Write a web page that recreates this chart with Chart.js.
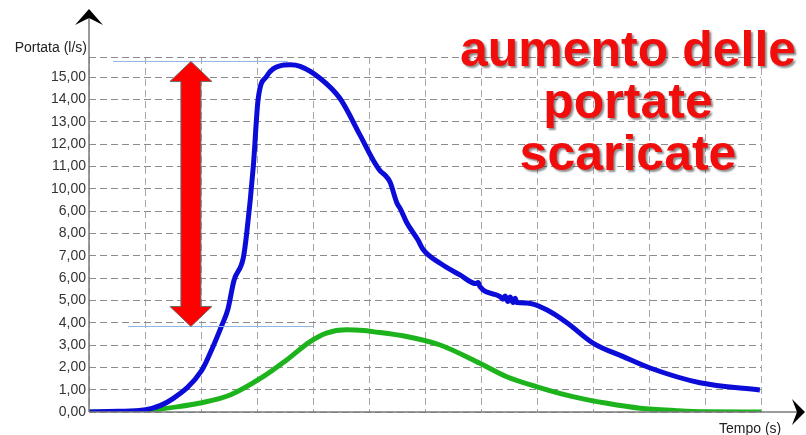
<!DOCTYPE html>
<html>
<head>
<meta charset="utf-8">
<script src="https://cdn.jsdelivr.net/npm/chart.js@4"></script>
<style>
    body { margin: 0; background: #fff; }
    #wrap { position: relative; width: 806px; height: 435px; }
</style>
</head>
<body>
<div id="wrap"><canvas id="PortataChart"></canvas></div>
<script>
// tempo (units of the grid) and portata (l/s)
const blueTime = [0, 0.52, 1.01, 1.5, 2.01, 2.21, 2.375, 2.48, 2.59, 2.755, 2.816, 2.934, 3.02, 3.17, 3.41, 3.59, 3.77, 4.125, 4.48, 4.84, 5.07, 5.2, 5.29, 5.375, 5.5, 5.56, 5.67, 5.875, 5.96, 6.27, 6.625, 6.91, 6.95, 6.98, 7.34, 7.39, 7.43, 7.48, 7.52, 7.57, 7.61, 7.64, 7.82, 8.18, 8.54, 9.0, 9.54, 10.02, 10.91, 11.98];
const blueFlow = [0, 0.03, 0.1, 0.6, 1.85, 2.9, 3.9, 4.6, 5.9, 6.9, 8.0, 11.0, 14.0, 15.03, 15.5, 15.55, 15.48, 14.95, 14.05, 12.4, 11.3, 10.8, 10.6, 10.3, 9.35, 9.1, 8.5, 7.7, 7.3, 6.66, 6.14, 5.75, 5.8, 5.62, 5.17, 5.05, 5.2, 4.95, 5.15, 4.9, 5.1, 4.9, 4.88, 4.57, 3.99, 3.09, 2.48, 1.97, 1.31, 0.99];

const greenTime = [0, 0.5, 1.0, 1.6, 1.96, 2.52, 3.11, 3.53, 3.95, 4.24, 4.6, 4.9, 5.07, 5.67, 6.27, 6.98, 7.46, 8.0, 8.64, 9.25, 9.84, 10.5, 11.0, 12.0];
const greenFlow = [0, 0.01, 0.06, 0.24, 0.39, 0.76, 1.58, 2.33, 3.15, 3.53, 3.68, 3.65, 3.6, 3.38, 3.0, 2.18, 1.58, 1.13, 0.69, 0.39, 0.17, 0.06, 0.01, 0];

const yTickValues = [0, 1, 2, 3, 4, 5, 6, 7, 8, 9, 10, 11, 12, 13, 14, 15, 15.9];
const yTickLabels = ['0,00', '1,00', '2,00', '3,00', '4,00', '5,00', '6,00', '7,00', '8,00', '6,00', '10,00', '11,00', '12,00', '13,00', '14,00', '15,00', ''];

const yTitle = 'Portata (l/s)';
const xTitle = 'Tempo (s)';
const noteLines = ['aumento delle', 'portate', 'scaricate'];

function toPoints(xs, ys) {
    return xs.map((x, i) => ({x: x, y: ys[i]}));
}

const decorPlugin = {
    id: 'decor',
    afterDraw(chart) {
        const ctx = chart.ctx;
        const xs = chart.scales.x;
        const ys = chart.scales.y;
        const area = chart.chartArea;

        ctx.save();

        // axis lines
        ctx.strokeStyle = '#7a7a7a';
        ctx.lineWidth = 1.5;
        ctx.beginPath();
        ctx.moveTo(area.left, area.bottom);
        ctx.lineTo(area.left, 12);
        ctx.moveTo(area.left, area.bottom);
        ctx.lineTo(800, area.bottom);
        ctx.stroke();

        // arrow heads
        ctx.fillStyle = '#000';
        ctx.beginPath();
        ctx.moveTo(area.left, 9);
        ctx.lineTo(area.left + 14, 25);
        ctx.lineTo(area.left, 18);
        ctx.lineTo(area.left - 14, 25);
        ctx.closePath();
        ctx.fill();
        ctx.beginPath();
        ctx.moveTo(805, area.bottom);
        ctx.lineTo(792, area.bottom - 13);
        ctx.lineTo(797, area.bottom);
        ctx.lineTo(792, area.bottom + 13);
        ctx.closePath();
        ctx.fill();

        // axis titles
        ctx.fillStyle = '#222';
        ctx.font = '14px "Liberation Sans", Arial, sans-serif';
        ctx.textAlign = 'right';
        ctx.textBaseline = 'middle';
        ctx.fillText(yTitle, area.left - 2, 48);
        ctx.textAlign = 'left';
        ctx.textBaseline = 'top';
        ctx.font = '14px "Liberation Sans", Arial, sans-serif';
        ctx.fillText(xTitle, 719, 422);

        // thin reference lines at peak levels
        const topY = ys.getPixelForValue(15.7);
        const lowY = ys.getPixelForValue(3.83);
        ctx.strokeStyle = '#8fb6e3';
        ctx.lineWidth = 1;
        ctx.beginPath();
        ctx.moveTo(xs.getPixelForValue(0.43), topY);
        ctx.lineTo(xs.getPixelForValue(3.55), topY);
        ctx.moveTo(xs.getPixelForValue(0.7), lowY);
        ctx.lineTo(xs.getPixelForValue(4.0), lowY);
        ctx.stroke();

        // red double arrow
        const cx = xs.getPixelForValue(1.82);
        const headH = 20, headW = 21, shaftW = 10;
        ctx.fillStyle = '#ff0000';
        ctx.strokeStyle = '#6d6d6d';
        ctx.lineWidth = 1;
        ctx.beginPath();
        ctx.moveTo(cx, topY);
        ctx.lineTo(cx + headW, topY + headH);
        ctx.lineTo(cx + shaftW, topY + headH);
        ctx.lineTo(cx + shaftW, lowY - headH);
        ctx.lineTo(cx + headW, lowY - headH);
        ctx.lineTo(cx, lowY);
        ctx.lineTo(cx - headW, lowY - headH);
        ctx.lineTo(cx - shaftW, lowY - headH);
        ctx.lineTo(cx - shaftW, topY + headH);
        ctx.lineTo(cx - headW, topY + headH);
        ctx.closePath();
        ctx.fill();
        ctx.stroke();

        // big red note
        ctx.font = 'bold 50px "Liberation Sans", Arial, sans-serif';
        ctx.textAlign = 'center';
        ctx.textBaseline = 'alphabetic';
        ctx.fillStyle = '#f20d0d';
        ctx.shadowColor = 'rgba(0, 0, 0, 0.45)';
        ctx.shadowOffsetX = 2;
        ctx.shadowOffsetY = 2;
        ctx.shadowBlur = 2;
        noteLines.forEach((line, i) => {
            ctx.fillText(line, 628, 66 + i * 52);
        });

        ctx.restore();
    }
};

window.onload = function(){

    let ctx = document.getElementById('PortataChart').getContext('2d');

    window.PChart = new Chart(ctx, {
        type: 'line',
        data: {
            datasets: [
            {
                label: 'dopo',
                data: toPoints(blueTime, blueFlow),
                borderColor: '#0c0cd8',
                borderWidth: 5,
                pointRadius: 0,
                cubicInterpolationMode: 'monotone',
            },
            {
                label: 'prima',
                data: toPoints(greenTime, greenFlow),
                borderColor: '#1db31d',
                borderWidth: 5,
                pointRadius: 0,
                cubicInterpolationMode: 'monotone',
            }]
        },
        options: {
            responsive: true,
            maintainAspectRatio: false,
            animation: false,
            layout: {
                padding: {top: 57, right: 45, left: 0, bottom: 0}
            },
            plugins: {
                legend: {display: false},
                tooltip: {enabled: false}
            },
            scales: {
                x: {
                    type: 'linear',
                    min: 0,
                    max: 12,
                    grid: {
                        color: '#a8a8a8',
                        lineWidth: 1,
                        drawTicks: false,
                    },
                    border: {display: false, dash: [7, 4]},
                    ticks: {display: false, stepSize: 1},
                    afterFit(scale) { scale.height = 23; }
                },
                y: {
                    min: 0,
                    max: 15.9,
                    grid: {
                        color: '#8c8c8c',
                        lineWidth: 1,
                        drawTicks: false,
                    },
                    border: {display: false, dash: [7, 4]},
                    afterBuildTicks(scale) {
                        scale.ticks = yTickValues.map(v => ({value: v}));
                    },
                    ticks: {
                        autoSkip: false,
                        padding: 3,
                        color: '#333',
                        font: {family: '"Liberation Sans", Arial, sans-serif', size: 14},
                        callback: function(value, index) {
                            return yTickLabels[index];
                        }
                    },
                    afterFit(scale) { scale.width = 89; }
                }
            }
        },
        plugins: [decorPlugin]
    });

};
</script>
</body>
</html>
